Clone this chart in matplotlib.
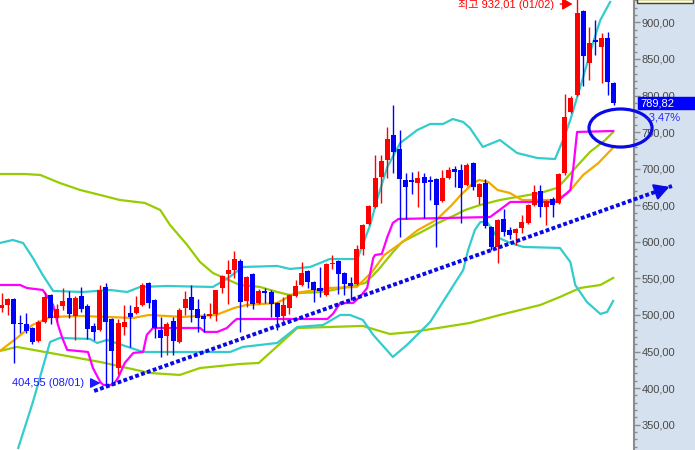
import numpy as np
import matplotlib.pyplot as plt
from matplotlib.patches import Ellipse, Rectangle
from matplotlib.ticker import MultipleLocator

plt.rcParams['font.family'] = ['Liberation Sans', 'Noto Sans CJK KR', 'DejaVu Sans']

# daily candles, left to right
opens = [509.6, 513.7, 521.9, 489.1, 487.7, 482.2, 464.5, 490.4, 527.3, 495.9,
         512.3, 523.2, 498.6, 526.0, 512.3, 485.0, 479.5, 538.3, 494.5, 427.5,
         483.6, 502.7, 502.7, 513.7, 543.7, 520.5, 479.5, 471.3, 491.8, 463.1,
         509.6, 524.6, 508.2, 498.6, 498.6, 501.4, 536.9, 556.0, 561.5, 573.8,
         519.1, 556.0, 516.4, 532.8, 531.4, 516.4, 498.6, 509.6, 526.0, 541.0,
         560.1, 545.1, 536.9, 527.3, 569.7, 573.8, 557.4, 543.7, 542.4, 590.2,
         624.4, 647.6, 688.6, 711.9, 746.1, 726.9, 684.5, 684.5, 680.4, 688.6,
         684.5, 685.9, 655.8, 687.3, 699.6, 698.2, 677.7, 707.8, 661.3, 680.4,
         620.3, 593.0, 631.2, 616.2, 612.1, 618.9, 625.8, 650.4, 669.5, 647.6,
         658.6, 653.1, 694.1, 777.5, 800.7, 915.6, 844.5, 875.9, 866.4, 878.7,
         817.1]
highs = [530.1, 523.2, 523.2, 500.0, 502.7, 483.6, 493.2, 531.4, 528.7, 515.0,
         536.9, 532.8, 526.0, 538.3, 515.0, 489.1, 541.0, 543.7, 495.9, 494.5,
         513.7, 513.7, 526.0, 543.7, 545.1, 521.9, 497.3, 490.4, 497.3, 509.6,
         532.8, 541.0, 521.9, 502.7, 516.4, 534.2, 554.7, 575.2, 587.5, 576.5,
         553.3, 557.4, 535.5, 536.9, 534.2, 517.8, 524.6, 528.7, 547.8, 572.4,
         561.5, 546.5, 565.6, 571.1, 582.0, 575.2, 558.8, 551.9, 595.7, 624.4,
         650.4, 718.7, 718.7, 757.0, 787.1, 752.9, 694.1, 695.5, 696.8, 694.1,
         690.0, 687.3, 698.2, 702.3, 703.7, 706.4, 707.8, 709.2, 680.4, 685.9,
         621.7, 631.2, 644.9, 620.3, 618.9, 636.7, 651.7, 677.7, 677.7, 657.2,
         661.3, 694.1, 802.1, 799.4, 932.01, 916.9, 893.7, 903.3, 885.5, 886.9,
         818.5]
lows = [504.1, 500.0, 434.4, 475.4, 475.4, 460.4, 463.1, 489.1, 487.7, 490.4,
        506.8, 495.9, 465.8, 504.1, 467.2, 465.8, 478.1, 404.55, 406.0, 419.3,
        472.7, 456.3, 501.4, 512.3, 509.6, 468.6, 442.6, 445.3, 445.3, 461.7,
        500.0, 490.4, 476.8, 476.8, 495.9, 491.8, 530.1, 515.0, 550.6, 476.8,
        510.9, 508.2, 515.0, 516.4, 497.3, 479.5, 490.4, 501.4, 524.6, 539.6,
        536.9, 517.8, 524.6, 526.0, 562.9, 528.7, 527.3, 520.5, 541.0, 582.0,
        623.0, 646.3, 653.1, 687.3, 694.1, 606.6, 631.2, 665.4, 647.6, 632.6,
        657.2, 593.0, 654.5, 685.9, 675.0, 625.8, 676.3, 670.9, 651.7, 618.9,
        588.8, 571.1, 608.0, 603.9, 595.7, 612.1, 624.4, 649.0, 634.0, 623.0,
        634.0, 651.7, 691.4, 776.1, 799.4, 813.0, 821.2, 855.4, 817.1, 800.7,
        787.1]
closes = [513.7, 521.9, 487.7, 487.7, 478.1, 463.1, 490.4, 524.6, 495.9, 508.2,
          519.1, 501.4, 523.2, 508.2, 480.9, 476.8, 534.2, 490.4, 450.8, 489.1,
          490.4, 497.3, 510.9, 541.0, 516.4, 482.2, 468.6, 487.7, 464.5, 506.8,
          521.9, 506.8, 495.9, 494.5, 501.4, 534.2, 553.3, 561.5, 576.5, 517.8,
          551.9, 515.0, 532.8, 530.1, 515.0, 497.3, 513.7, 527.3, 539.6, 557.4,
          545.1, 534.2, 532.8, 569.7, 571.1, 556.0, 542.4, 539.6, 590.2, 623.0,
          649.0, 687.3, 710.5, 740.6, 722.8, 685.9, 675.0, 681.8, 687.3, 680.4,
          681.8, 650.4, 687.3, 698.2, 695.5, 673.6, 705.0, 675.0, 679.1, 621.7,
          593.0, 629.9, 613.5, 609.4, 617.6, 627.1, 650.4, 668.1, 647.6, 655.8,
          650.4, 692.7, 770.7, 796.6, 912.8, 854.0, 871.8, 873.2, 878.7, 818.2,
          789.82]

# indicator lines (x = candle index)
cyan_up_x = [-0.3, 1.8, 3.5, 5.1, 6.7, 8.4, 13.3, 17.7, 20.5, 22.6, 27.0, 34.5, 37.0, 39.4,
             45.0, 47.1, 50.4, 53.6, 58.1, 60.2, 61.3, 63.0, 65.1, 67.9, 70.0, 72.1, 73.7,
             75.4, 76.5, 78.6, 81.4, 84.2, 87.5, 90.4, 91.7, 92.9, 95.0, 96.6, 97.8, 99.4]
cyan_up_y = [598.4, 602.5, 598.4, 577.9, 554.7, 532.8, 531.4, 534.2, 531.4, 538.3, 539.6,
             538.3, 550.6, 565.6, 567.0, 562.9, 565.6, 576.5, 576.5, 623.0, 657.2, 702.3,
             735.1, 752.9, 761.1, 761.1, 767.9, 763.8, 755.6, 729.7, 739.2, 721.4, 714.6,
             713.2, 739.2, 766.6, 825.3, 871.8, 903.3, 927.9]
cyan_lo_x = [2.7, 5.1, 7.9, 9.5, 14.4, 15.6, 17.2, 23.1, 27.0, 37.3, 39.4, 45.0, 48.3, 52.5,
             55.3, 56.9, 59.0, 60.7, 63.9, 66.2, 70.0, 72.8, 75.4, 76.2, 77.3, 78.2, 79.3,
             80.9, 83.1, 85.2, 91.2, 92.9, 93.7, 95.6, 97.8, 98.9, 99.9]
cyan_lo_y = [318.2, 381.1, 463.1, 468.6, 467.2, 461.7, 465.8, 449.4, 449.4, 449.4, 456.3,
             461.7, 483.6, 486.3, 500.0, 500.0, 493.2, 472.7, 442.6, 459.0, 490.4, 527.3,
             561.5, 588.8, 616.2, 627.1, 627.1, 606.6, 598.4, 593.0, 591.6, 572.4, 541.0,
             517.8, 501.4, 504.1, 519.1]
orange_x = [-0.3, 2.5, 5, 8, 13, 21.5, 24, 29.5, 35, 38, 40, 45, 48, 53.5, 58, 60.5, 62.5,
            65.5, 68, 71, 73.5, 75, 77, 78, 79.5, 81, 83, 85, 90.5, 92.5, 95, 97.5, 100]
orange_y = [450.8, 468.6, 486.3, 497.3, 498.6, 495.9, 500.0, 497.3, 500.0, 509.6, 513.7,
            516.4, 530.1, 536.9, 538.3, 558.8, 582.0, 599.8, 616.2, 629.9, 650.0, 664.0,
            680.0, 684.5, 681.8, 670.9, 666.8, 657.2, 657.2, 666.8, 691.4, 707.8, 729.7]
olive_x = [-0.3, 3.8, 6.3, 9.5, 12.8, 16.1, 19.3, 23.4, 25.9, 27.5, 30.3, 32.4, 34.5, 38.9,
           42.2, 45.0, 47.1, 48.7, 52.5, 56.4, 59.4, 61.5, 63.8, 65.4, 67.0, 69.2, 71.3,
           74.1, 75.7, 78.2, 81.4, 88.0, 90.7, 92.0, 93.7, 96.1, 98.6, 99.9]
olive_y = [692.7, 692.7, 691.4, 680.4, 670.9, 664.0, 657.2, 653.1, 643.5, 623.0, 595.7,
           572.4, 557.4, 541.0, 538.3, 531.4, 527.3, 530.1, 531.4, 538.3, 543.7, 561.5,
           584.8, 599.8, 606.6, 616.2, 625.8, 636.7, 643.5, 650.4, 657.2, 666.8, 673.6,
           684.5, 700.9, 722.8, 739.2, 750.2]
olive_lo_x = [-0.3, 2.5, 7.9, 16.1, 24.2, 29.1, 32.4, 38.9, 42.0, 48.3, 53.6, 59.0, 63.4,
              67.2, 76.5, 81.4, 88.0, 91.2, 94.5, 97.8, 99.9]
olive_lo_y = [450.8, 456.3, 448.1, 435.7, 420.7, 418.0, 427.5, 433.0, 434.4, 482.2, 483.6,
              485.0, 474.0, 476.8, 489.1, 500.0, 513.7, 524.6, 536.9, 541.0, 550.6]
magenta_x = [-0.3, 3.0, 4.1, 6.7, 8.4, 9.2, 9.9, 10.7, 14.1, 14.9, 16.1, 16.6, 18.2, 19.0,
             20.1, 21.5, 23.1, 23.7, 24.7, 32.4, 33.2, 35.2, 36.8, 37.8, 38.4, 53.2, 54.1,
             55.3, 57.4, 58.5, 59.7, 60.7, 61.0, 62.1, 63.0, 63.9, 64.8, 79.8, 83.1, 90.7,
             92.9, 93.4, 94.0, 99.9]
magenta_y = [541.0, 541.0, 536.9, 534.2, 513.7, 486.3, 468.6, 452.2, 449.4, 427.5, 408.4,
             404.3, 404.3, 413.9, 434.4, 448.1, 449.4, 472.7, 482.2, 482.2, 476.8, 476.8,
             482.2, 490.4, 494.5, 494.5, 501.4, 516.4, 516.4, 524.6, 536.9, 577.9, 582.0,
             583.4, 606.6, 625.8, 631.2, 633.9, 654.5, 654.5, 670.9, 702.3, 750.2, 751.5]

trend_x = [15.1, 109.5]
trend_y = [396.1, 676.3]

W, H = 695, 450
fig = plt.figure(figsize=(W / 100, H / 100), dpi=100)
fig.patch.set_facecolor('#d5e1ee')
ax = fig.add_axes([0, 0, 634 / W, 1])
ax.set_facecolor('white')

o = np.array(opens); h = np.array(highs); l = np.array(lows); c = np.array(closes)
idx = np.arange(len(o))
cols = np.where(c >= o, '#ff0000', '#0000ff')

ax.plot(olive_lo_x, olive_lo_y, color='#99cc00', lw=1.6, zorder=2)
ax.plot(olive_x, olive_y, color='#99cc00', lw=1.6, zorder=2)
ax.plot(cyan_up_x, cyan_up_y, color='#33cccc', lw=1.6, zorder=2)
ax.plot(cyan_lo_x, cyan_lo_y, color='#33cccc', lw=1.6, zorder=2)
ax.plot(orange_x, orange_y, color='#f2a900', lw=1.6, zorder=2)
ax.plot(magenta_x, magenta_y, color='#ff00ff', lw=1.6, zorder=2)

ax.vlines(idx, l, h, colors=cols, lw=1.0, zorder=4)
ax.bar(idx, np.maximum(np.abs(c - o), 1.4), bottom=np.minimum(o, c), width=0.82,
       color=cols, linewidth=0, zorder=5)

# trend line with arrow head
ax.plot(trend_x, trend_y, color='#0a0ae6', lw=2.8, linestyle=(0, (1, 0.6)),
        solid_capstyle='butt', clip_on=False, zorder=7)
ax.annotate('', xy=(trend_x[1], trend_y[1]),
            xytext=(trend_x[1] - 2.2, trend_y[1] - 6.5),
            arrowprops=dict(arrowstyle='-|>,head_length=0.9,head_width=0.5',
                            color='#0a0ae6', lw=1.5),
            annotation_clip=False, zorder=7)

ax.add_patch(Ellipse((101.1, 755.6), 10.3, 52, fill=False, edgecolor='#0a0ae6',
                     lw=2.3, clip_on=False, zorder=8))

# low / high labels
ax.text(13.4, 407.0, '404,55 (08/01)', color='#1a1aff', fontsize=8, ha='right', va='center')
ax.annotate('', xy=(16.6, 407.0), xytext=(14.2, 407.0),
            arrowprops=dict(arrowstyle='-|>,head_length=0.6,head_width=0.3',
                            color='#1a1aff', lw=1.0))
ax.text(90.3, 919.7, '최고 932,01 (01/02)', color='#ff0000', fontsize=8,
        ha='right', va='baseline')
ax.annotate('', xy=(93.7, 925.1), xytext=(90.8, 925.1),
            arrowprops=dict(arrowstyle='-|>,head_length=0.6,head_width=0.35',
                            color='#ff0000', lw=1.0), annotation_clip=False)

ax.set_xlim(-0.28, 103.3)
ax.set_ylim(315.4, 930.6)
for s in ['top', 'left', 'bottom']:
    ax.spines[s].set_visible(False)
ax.spines['right'].set_color('#8c8c8c')
ax.spines['right'].set_linewidth(1.5)
ax.set_xticks([])
ax.yaxis.tick_right()
ticks = np.arange(350, 901, 50)
ax.set_yticks(ticks)
ax.set_yticklabels([f'{t:.2f}'.replace('.', ',') for t in ticks])
ax.yaxis.set_minor_locator(MultipleLocator(10))
ax.tick_params(axis='y', which='major', length=4.5, width=1, color='#8c8c8c',
               labelsize=8, labelcolor='#4a4a4a', pad=1)
ax.tick_params(axis='y', which='minor', length=2, width=1, color='#8c8c8c')

# current price tag
fig.patches.append(Rectangle((638 / W, 1 - 109 / H), 57 / W, 12 / H,
                             transform=fig.transFigure, color='#0000ff'))
fig.text(640 / W, 1 - 103 / H, '789,82', color='white', fontsize=8, va='center')
fig.text(645 / W, 1 - 117 / H, '-3,47%', color='#2a2aff', fontsize=8, va='center')
fig.patches.append(Rectangle((637 / W, 1 - 3 / H), 56 / W, 4 / H,
                             transform=fig.transFigure, facecolor='#ffffc8',
                             edgecolor='#404040', lw=1))

fig.savefig('out.png', dpi=100)
